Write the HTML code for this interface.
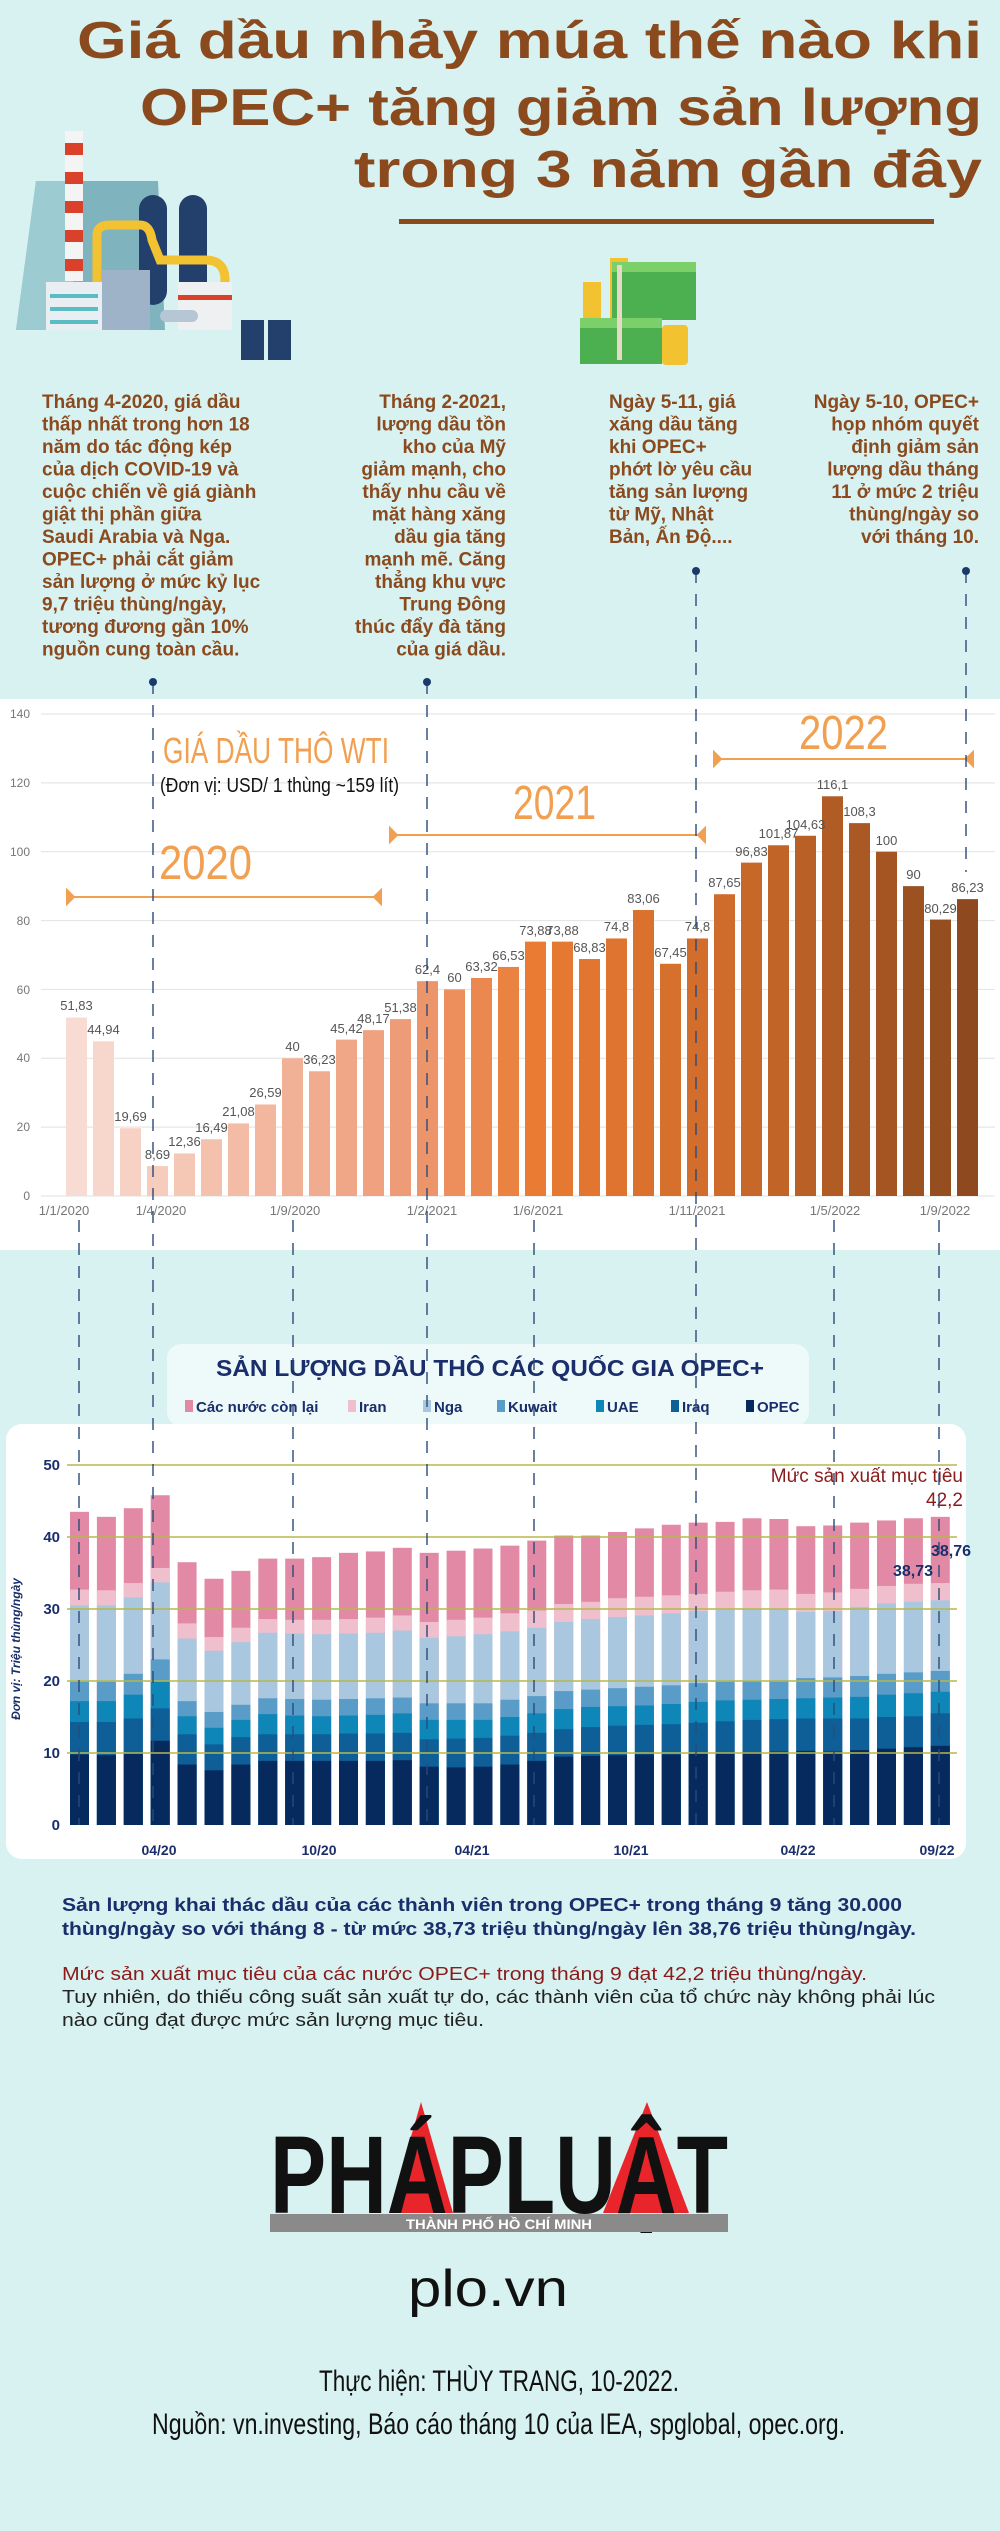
<!DOCTYPE html>
<html><head><meta charset="utf-8">
<style>
html,body{margin:0;padding:0;background:#d7f2f1;}
svg{display:block;}
text{font-family:"Liberation Sans",sans-serif;}
.t{fill:#8b4a1e;font-weight:bold;font-size:19px;}
.vl{fill:#555;font-size:13px;text-anchor:middle;}
.xl{fill:#777;font-size:13px;text-anchor:middle;}
.yl{fill:#777;font-size:12px;text-anchor:end;}
.y2{fill:#1a2e6b;font-size:15px;font-weight:bold;text-anchor:end;}
.x2{fill:#1a2e6b;font-size:14px;font-weight:bold;text-anchor:middle;}
.lg{fill:#1a2e6b;font-size:15px;font-weight:bold;}
</style></head>
<body>
<svg id="s" width="1000" height="2531" viewBox="0 0 1000 2531" xmlns="http://www.w3.org/2000/svg">
<rect width="1000" height="2531" fill="#d7f2f1"/>
<g font-weight="bold" fill="#8b4a1e" font-size="52">
<text x="77" y="58" textLength="905" lengthAdjust="spacingAndGlyphs">Giá dầu nhảy múa thế nào khi</text>
<text x="140" y="125" textLength="842" lengthAdjust="spacingAndGlyphs">OPEC+ tăng giảm sản lượng</text>
<text x="354" y="187" textLength="628" lengthAdjust="spacingAndGlyphs">trong 3 năm gần đây</text>
</g>
<rect x="399" y="219" width="535" height="5" fill="#8b4a1e"/>
<g>
<polygon points="36,181 158,181 165,330 16,330" fill="#7fb3bd"/>
<polygon points="36,181 80,181 70,330 16,330" fill="#9ccbd2"/>
<rect x="65" y="131" width="18" height="150" fill="#f4f4f4"/>
<rect x="65" y="143" width="18" height="12" fill="#d9412b"/>
<rect x="65" y="172" width="18" height="12" fill="#d9412b"/>
<rect x="65" y="201" width="18" height="12" fill="#d9412b"/>
<rect x="65" y="230" width="18" height="12" fill="#d9412b"/>
<rect x="65" y="259" width="18" height="12" fill="#d9412b"/>
<rect x="139" y="195" width="28" height="110" rx="14" fill="#233f6b"/>
<rect x="179" y="195" width="28" height="110" rx="14" fill="#233f6b"/>
<path d="M97,290 V235 Q97,225 110,225 H140 Q150,225 152,240 L160,260 H205 Q225,260 225,280 Q225,297 205,297" fill="none" stroke="#f2c230" stroke-width="9"/>
<rect x="46" y="282" width="56" height="48" fill="#e9eef2"/>
<rect x="50" y="294" width="48" height="4" fill="#5cbcc4"/>
<rect x="50" y="307" width="48" height="4" fill="#5cbcc4"/>
<rect x="50" y="320" width="48" height="4" fill="#5cbcc4"/>
<rect x="102" y="270" width="48" height="60" fill="#9eb3c8"/>
<rect x="178" y="282" width="54" height="48" fill="#eef0f2"/>
<rect x="178" y="295" width="54" height="5" fill="#d9412b"/>
<rect x="160" y="310" width="38" height="12" rx="6" fill="#b7c6d4"/>
<rect x="241" y="320" width="23" height="40" fill="#233f6b"/>
<rect x="268" y="320" width="23" height="40" fill="#233f6b"/>
</g>
<g>
<rect x="610" y="258" width="18" height="60" fill="#f2c230"/>
<rect x="583" y="282" width="18" height="50" fill="#f2c230"/>
<rect x="612" y="262" width="84" height="58" fill="#4caf50"/>
<rect x="612" y="262" width="84" height="10" fill="#7cd06a"/>
<rect x="580" y="318" width="82" height="46" fill="#4caf50"/>
<rect x="580" y="318" width="82" height="10" fill="#7cd06a"/>
<rect x="617" y="265" width="5" height="95" fill="#e8d8c8"/>
<rect x="662" y="325" width="26" height="40" rx="4" fill="#f2c230"/>
</g>
<g class="t">
<text x="42" y="408" class="t">Tháng 4-2020,  giá dầu</text>
<text x="42" y="430.5" class="t">thấp nhất trong hơn 18</text>
<text x="42" y="453" class="t">năm do tác động kép</text>
<text x="42" y="475.5" class="t">của dịch COVID-19 và</text>
<text x="42" y="498" class="t">cuộc chiến về giá giành</text>
<text x="42" y="520.5" class="t">giật thị phần giữa</text>
<text x="42" y="543" class="t">Saudi Arabia và Nga.</text>
<text x="42" y="565.5" class="t">OPEC+ phải cắt giảm</text>
<text x="42" y="588" class="t">sản lượng ở mức kỷ lục</text>
<text x="42" y="610.5" class="t">9,7 triệu thùng/ngày,</text>
<text x="42" y="633" class="t">tương đương gần 10%</text>
<text x="42" y="655.5" class="t">nguồn cung toàn cầu.</text>
</g>
<g class="t" text-anchor="end">
<text x="506" y="408" class="t">Tháng 2-2021,</text>
<text x="506" y="430.5" class="t">lượng dầu tồn</text>
<text x="506" y="453" class="t">kho của Mỹ</text>
<text x="506" y="475.5" class="t">giảm mạnh, cho</text>
<text x="506" y="498" class="t">thấy nhu cầu về</text>
<text x="506" y="520.5" class="t">mặt hàng xăng</text>
<text x="506" y="543" class="t">dầu gia tăng</text>
<text x="506" y="565.5" class="t">mạnh mẽ.  Căng</text>
<text x="506" y="588" class="t">thẳng khu vực</text>
<text x="506" y="610.5" class="t">Trung Đông</text>
<text x="506" y="633" class="t">thúc đẩy đà tăng</text>
<text x="506" y="655.5" class="t">của giá dầu.</text>
</g>
<g class="t">
<text x="609" y="408" class="t">Ngày 5-11, giá</text>
<text x="609" y="430.5" class="t">xăng dầu tăng</text>
<text x="609" y="453" class="t">khi OPEC+</text>
<text x="609" y="475.5" class="t">phớt lờ yêu cầu</text>
<text x="609" y="498" class="t">tăng sản lượng</text>
<text x="609" y="520.5" class="t">từ Mỹ, Nhật</text>
<text x="609" y="543" class="t">Bản, Ấn Độ....</text>
</g>
<g class="t" text-anchor="end">
<text x="979" y="408" class="t">Ngày 5-10, OPEC+</text>
<text x="979" y="430.5" class="t">họp nhóm quyết</text>
<text x="979" y="453" class="t">định giảm sản</text>
<text x="979" y="475.5" class="t">lượng dầu tháng</text>
<text x="979" y="498" class="t">11 ở mức 2 triệu</text>
<text x="979" y="520.5" class="t">thùng/ngày so</text>
<text x="979" y="543" class="t">với tháng 10.</text>
</g>

<rect x="0" y="699" width="1000" height="551" fill="#ffffff"/>
<g id="g1grid" stroke="#e6e6e6" stroke-width="1.2"></g>
<g>
<text class="yl" x="30" y="718">140</text>
<text class="yl" x="30" y="787">120</text>
<text class="yl" x="30" y="856">100</text>
<text class="yl" x="30" y="925">80</text>
<text class="yl" x="30" y="994">60</text>
<text class="yl" x="30" y="1062">40</text>
<text class="yl" x="30" y="1131">20</text>
<text class="yl" x="30" y="1200">0</text>
</g>
<g id="bars1"></g>
<g>
<text class="vl" x="76.5" y="1010">51,83</text>
<text class="vl" x="103.5" y="1034">44,94</text>
<text class="vl" x="130.5" y="1121">19,69</text>
<text class="vl" x="157.5" y="1159">8,69</text>
<text class="vl" x="184.5" y="1146">12,36</text>
<text class="vl" x="211.5" y="1132">16,49</text>
<text class="vl" x="238.5" y="1116">21,08</text>
<text class="vl" x="265.5" y="1097">26,59</text>
<text class="vl" x="292.5" y="1051">40</text>
<text class="vl" x="319.5" y="1064">36,23</text>
<text class="vl" x="346.5" y="1033">45,42</text>
<text class="vl" x="373.5" y="1023">48,17</text>
<text class="vl" x="400.5" y="1012">51,38</text>
<text class="vl" x="427.5" y="974">62,4</text>
<text class="vl" x="454.5" y="982">60</text>
<text class="vl" x="481.5" y="971">63,32</text>
<text class="vl" x="508.5" y="960">66,53</text>
<text class="vl" x="535.5" y="935">73,88</text>
<text class="vl" x="562.5" y="935">73,88</text>
<text class="vl" x="589.5" y="952">68,83</text>
<text class="vl" x="616.5" y="931">74,8</text>
<text class="vl" x="643.5" y="903">83,06</text>
<text class="vl" x="670.5" y="957">67,45</text>
<text class="vl" x="697.5" y="931">74,8</text>
<text class="vl" x="724.5" y="887">87,65</text>
<text class="vl" x="751.5" y="856">96,83</text>
<text class="vl" x="778.5" y="838">101,87</text>
<text class="vl" x="805.5" y="829">104,63</text>
<text class="vl" x="832.5" y="789">116,1</text>
<text class="vl" x="859.5" y="816">108,3</text>
<text class="vl" x="886.5" y="845">100</text>
<text class="vl" x="913.5" y="879">90</text>
<text class="vl" x="940.5" y="913">80,29</text>
<text class="vl" x="967.5" y="892">86,23</text>
</g>
<g>
<text class="xl" x="64" y="1215">1/1/2020</text>
<text class="xl" x="161" y="1215">1/4/2020</text>
<text class="xl" x="295" y="1215">1/9/2020</text>
<text class="xl" x="432" y="1215">1/2/2021</text>
<text class="xl" x="538" y="1215">1/6/2021</text>
<text class="xl" x="697" y="1215">1/11/2021</text>
<text class="xl" x="835" y="1215">1/5/2022</text>
<text class="xl" x="945" y="1215">1/9/2022</text>
</g>
<g fill="#f0a050">
<text x="163" y="763" font-size="36" textLength="226" lengthAdjust="spacingAndGlyphs">GIÁ DẦU THÔ WTI</text>
<text x="159" y="879" font-size="48" textLength="93" lengthAdjust="spacingAndGlyphs">2020</text>
<text x="513" y="819" font-size="48" textLength="83" lengthAdjust="spacingAndGlyphs">2021</text>
<text x="799" y="749" font-size="48" textLength="89" lengthAdjust="spacingAndGlyphs">2022</text>
</g>
<text x="160" y="792" font-size="20" fill="#111" textLength="239" lengthAdjust="spacingAndGlyphs">(Đơn vị: USD/ 1 thùng ~159 lít)</text>
<g stroke="#f0a050" stroke-width="2" fill="#f0a050">
<line x1="67" y1="897" x2="381" y2="897"/>
<polygon points="67,890 67,904 74,897"/><polygon points="381,890 381,904 374,897"/>
<line x1="390" y1="835" x2="705" y2="835"/>
<polygon points="390,828 390,842 397,835"/><polygon points="705,828 705,842 698,835"/>
<line x1="714" y1="759" x2="973" y2="759"/>
<polygon points="714,752 714,766 721,759"/><polygon points="973,752 973,766 966,759"/>
</g>

<rect x="167" y="1344" width="642" height="82" rx="14" fill="#eef9f9"/>
<rect x="6" y="1424" width="960" height="435" rx="16" fill="#ffffff"/>
<text x="216" y="1376" font-size="23" font-weight="bold" fill="#1a2e6b" textLength="548" lengthAdjust="spacingAndGlyphs">SẢN LƯỢNG DẦU THÔ CÁC QUỐC GIA OPEC+</text>
<g>
<rect x="185" y="1400" width="8" height="12" fill="#e28aa5"/><text class="lg" x="196" y="1412">Các nước còn lại</text>
<rect x="348" y="1400" width="8" height="12" fill="#f0bfcd"/><text class="lg" x="359" y="1412">Iran</text>
<rect x="423" y="1400" width="8" height="12" fill="#a9c8df"/><text class="lg" x="434" y="1412">Nga</text>
<rect x="497" y="1400" width="8" height="12" fill="#5a9cc8"/><text class="lg" x="508" y="1412">Kuwait</text>
<rect x="596" y="1400" width="8" height="12" fill="#0e86b8"/><text class="lg" x="607" y="1412">UAE</text>
<rect x="671" y="1400" width="8" height="12" fill="#0e5f98"/><text class="lg" x="682" y="1412">Iraq</text>
<rect x="746" y="1400" width="8" height="12" fill="#062a5e"/><text class="lg" x="757" y="1412">OPEC</text>
</g>
<g id="bars2"></g>
<g stroke="#b5b84a" stroke-width="1.5">
<line x1="67" y1="1465" x2="957" y2="1465"/>
<line x1="67" y1="1537" x2="957" y2="1537"/>
<line x1="67" y1="1609" x2="957" y2="1609"/>
<line x1="67" y1="1681" x2="957" y2="1681"/>
<line x1="67" y1="1753" x2="957" y2="1753"/>
</g>
<g>
<text class="y2" x="60" y="1470">50</text>
<text class="y2" x="60" y="1542">40</text>
<text class="y2" x="60" y="1614">30</text>
<text class="y2" x="60" y="1686">20</text>
<text class="y2" x="60" y="1758">10</text>
<text class="y2" x="60" y="1830">0</text>
</g>
<text transform="translate(20,1649) rotate(-90)" text-anchor="middle" font-size="12" font-style="italic" font-weight="bold" fill="#1a2e6b">Đơn vị: Triệu thùng/ngày</text>
<g>
<text class="x2" x="159" y="1855">04/20</text>
<text class="x2" x="319" y="1855">10/20</text>
<text class="x2" x="472" y="1855">04/21</text>
<text class="x2" x="631" y="1855">10/21</text>
<text class="x2" x="798" y="1855">04/22</text>
<text class="x2" x="937" y="1855">09/22</text>
</g>
<text x="963" y="1482" font-size="19" fill="#8b1a1a" text-anchor="end">Mức sản xuất mục tiêu</text>
<text x="963" y="1506" font-size="19" fill="#8b1a1a" text-anchor="end">42,2</text>
<text x="971" y="1556" font-size="16" font-weight="bold" fill="#1a2e6b" text-anchor="end">38,76</text>
<text x="933" y="1576" font-size="16" font-weight="bold" fill="#1a2e6b" text-anchor="end">38,73</text>

<g id="dash" stroke="#2a4a7a" stroke-width="1.4" stroke-dasharray="12,11" fill="none">
<line x1="153" y1="682" x2="153" y2="1825"/>
<line x1="427" y1="682" x2="427" y2="1825"/>
<line x1="696" y1="571" x2="696" y2="1825"/>
<line x1="966" y1="571" x2="966" y2="872"/>
<line x1="79" y1="1220" x2="79" y2="1825"/>
<line x1="293" y1="1220" x2="293" y2="1825"/>
<line x1="534" y1="1220" x2="534" y2="1825"/>
<line x1="834" y1="1220" x2="834" y2="1825"/>
<line x1="939" y1="1220" x2="939" y2="1825"/>
</g>
<g fill="#1a3a6b">
<circle cx="153" cy="682" r="4"/><circle cx="427" cy="682" r="4"/>
<circle cx="696" cy="571" r="4"/><circle cx="966" cy="571" r="4"/>
</g>

<g font-size="18">
<text x="62" y="1911" font-weight="bold" fill="#1a2e6b" textLength="840" lengthAdjust="spacingAndGlyphs">Sản lượng khai thác dầu của các thành viên trong OPEC+ trong tháng 9 tăng 30.000</text>
<text x="62" y="1935" font-weight="bold" fill="#1a2e6b" textLength="854" lengthAdjust="spacingAndGlyphs">thùng/ngày so với tháng 8 - từ mức 38,73 triệu thùng/ngày lên 38,76 triệu thùng/ngày.</text>
<text x="62" y="1980" fill="#8b1a1a" textLength="805" lengthAdjust="spacingAndGlyphs">Mức sản xuất mục tiêu của các nước OPEC+ trong tháng 9 đạt 42,2 triệu thùng/ngày.</text>
<text x="62" y="2003" fill="#222" textLength="873" lengthAdjust="spacingAndGlyphs">Tuy nhiên, do thiếu công suất sản xuất tự do, các thành viên của tổ chức này không phải lúc</text>
<text x="62" y="2026" fill="#222" textLength="422" lengthAdjust="spacingAndGlyphs">nào cũng đạt được mức sản lượng mục tiêu.</text>
</g>
<g>
<polygon points="421,2102 389,2213 453,2213" fill="#e8252a"/>
<polygon points="647,2102 603,2213 689,2213" fill="#e8252a"/>
<text x="270" y="2213" font-family="Liberation Serif,serif" font-weight="bold" font-size="110" fill="#111" textLength="458" lengthAdjust="spacingAndGlyphs">PHÁPLUẬT</text>
<rect x="270" y="2214" width="458" height="18" fill="#8a8a8a"/>
<text x="406" y="2229" font-size="14" font-weight="bold" fill="#fff" textLength="186" lengthAdjust="spacingAndGlyphs">THÀNH PHỐ HỒ CHÍ MINH</text>
</g>
<text x="408" y="2306" font-size="52" fill="#111" textLength="160" lengthAdjust="spacingAndGlyphs">plo.vn</text>
<text x="319" y="2391" font-size="30" fill="#111" textLength="360" lengthAdjust="spacingAndGlyphs">Thực hiện:  THÙY TRANG, 10-2022.</text>
<text x="152" y="2434" font-size="30" fill="#111" textLength="693" lengthAdjust="spacingAndGlyphs">Nguồn: vn.investing, Báo cáo tháng 10 của IEA, spglobal,  opec.org.</text>
</svg>
<script>
(function(){
var NS="http://www.w3.org/2000/svg";
function R(p,x,y,w,h,c){var r=document.createElementNS(NS,"rect");r.setAttribute("x",x);r.setAttribute("y",y);r.setAttribute("width",w);r.setAttribute("height",h);r.setAttribute("fill",c);p.appendChild(r);}
var g=document.getElementById("g1grid");
for(var k=0;k<=7;k++){var y=1196-k*20*3.443;var l=document.createElementNS(NS,"line");l.setAttribute("x1",41);l.setAttribute("x2",995);l.setAttribute("y1",y);l.setAttribute("y2",y);g.appendChild(l);}
var v=[51.83,44.94,19.69,8.69,12.36,16.49,21.08,26.59,40,36.23,45.42,48.17,51.38,62.4,60,63.32,66.53,73.88,73.88,68.83,74.8,83.06,67.45,74.8,87.65,96.83,101.87,104.63,116.1,108.3,100,90,80.29,86.23];
var st=[[0,[248,220,211]],[12,[238,156,120]],[17,[233,123,51]],[24,[207,107,43]],[33,[142,74,30]]];
function col(i){for(var s=0;s<st.length-1;s++){if(i<=st[s+1][0]){var a=st[s],b=st[s+1],t=(i-a[0])/(b[0]-a[0]);var c=a[1].map(function(q,j){return Math.round(q+(b[1][j]-q)*t)});return "rgb("+c.join(",")+")";}}}
var b1=document.getElementById("bars1");
v.forEach(function(x,i){var h=x*3.443;R(b1,66+27*i,1196-h,21,h,col(i));});
var tot=[43.5,42.8,44,45.8,36.5,34.2,35.3,37,37,37.2,37.8,38,38.5,37.8,38.1,38.4,38.8,39.5,40.2,40.2,40.7,41.2,41.7,42,42.1,42.6,42.5,41.5,41.6,42,42.3,42.6,42.8];
var iran=[32.7,32.6,33.6,35.7,28,26.1,27.4,28.6,28.5,28.5,28.6,28.8,29.1,28.2,28.5,28.8,29.4,29.8,30.7,31,31.5,31.7,31.9,32.1,32.4,32.6,32.7,32.1,32.3,32.8,33.2,33.5,33.6];
var nga=[30.5,30.5,31.6,33.7,25.9,24.2,25.4,26.7,26.6,26.5,26.6,26.7,27,26,26.2,26.5,26.9,27.4,28.2,28.6,28.9,29.1,29.4,29.7,29.9,30,30,29.6,29.7,30.3,30.8,31,31.2];
var kuw=[19.9,19.9,21,23,17.2,15.7,16.7,17.6,17.5,17.4,17.5,17.6,17.7,16.9,16.9,16.9,17.4,17.9,18.6,18.8,19,19.2,19.4,19.7,19.9,20,20.1,20.4,20.5,20.7,21,21.2,21.4];
var uae=[17.2,17.2,18.1,20,15.1,13.5,14.6,15.4,15.2,15.1,15.2,15.3,15.5,14.6,14.6,14.6,15,15.5,16.1,16.4,16.5,16.6,16.8,17.1,17.3,17.4,17.5,17.6,17.7,17.8,18.1,18.3,18.5];
var irq=[14.3,14.3,14.8,16.2,12.6,11.2,12.2,12.6,12.6,12.6,12.7,12.7,12.8,11.9,12,12.1,12.4,12.8,13.3,13.6,13.8,13.9,14,14.2,14.4,14.6,14.7,14.8,14.8,14.8,15,15.1,15.5];
var opc=[9.8,9.7,9.9,11.7,8.4,7.6,8.4,8.9,8.9,8.9,8.9,8.9,9,8.1,8,8.1,8.4,8.9,9.5,9.6,9.7,9.8,9.8,9.9,10,10.1,10.2,10.3,10.2,10.4,10.6,10.8,11];
var L=[[tot,"#e28aa5"],[iran,"#f0bfcd"],[nga,"#a9c8df"],[kuw,"#5a9cc8"],[uae,"#0e86b8"],[irq,"#0e5f98"],[opc,"#062a5e"]];
var b2=document.getElementById("bars2");
for(var j=0;j<33;j++){var x=70+26.9*j;L.forEach(function(p){var h=p[0][j]*7.2;R(b2,x,1825-h,19,h,p[1]);});}
})();
</script>
</body></html>
